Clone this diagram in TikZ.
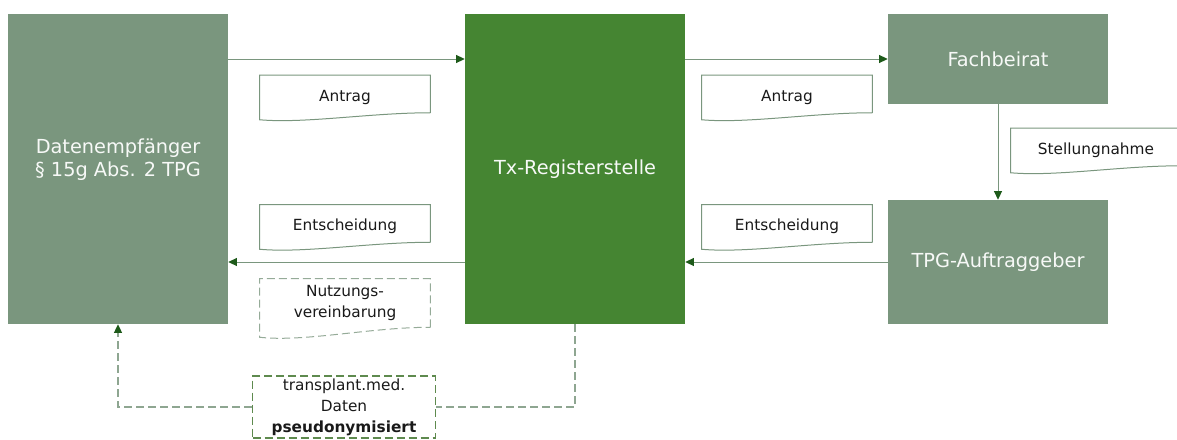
\documentclass[tikz,border=0pt]{standalone}
\usepackage{fontspec}
\setmainfont{DejaVu Sans}
\usepackage{tikz}
\usetikzlibrary{arrows.meta}

\definecolor{boxgreen}{HTML}{7A967E}
\definecolor{txgreen}{HTML}{458532}
\definecolor{tipgreen}{HTML}{1E5A1A}
\definecolor{lineg}{HTML}{7A967E}
\definecolor{dashg}{HTML}{5E8A4E}

\tikzset{
  entity/.style={shape=rectangle, fill=boxgreen, text=white!94!boxgreen, minimum width=165pt,
    align=center, font=\fontsize{14.5}{17.5}\selectfont},
  register/.style={entity, fill=txgreen},
  paper/.style={shape=rectangle, minimum width=127.5pt, minimum height=27.75pt, align=center,
    font=\fontsize{11.5}{15.75}\selectfont, text=black!90},
  sheet/.style={paper, text height=11pt, text depth=0pt},
  paperline/.style={draw=lineg, line width=0.75pt},
  flow/.style={draw=lineg, line width=0.75pt, -{Triangle[length=6.5pt, width=6pt, color=tipgreen]}},
  dataflow/.style={draw=lineg!85, line width=1pt, dash pattern=on 6pt off 3pt},
}

\begin{document}
\begin{tikzpicture}[x=0.75pt, y=-0.75pt]
    \clip (0,0) rectangle (1177,439);

    % main parties
    \node[entity, minimum height=232.5pt] (dat) at (118,169) {Datenempfänger\\§ 15g Abs. 2 TPG\\~};
    \node[register, minimum height=232.5pt] (reg) at (575,169) {Tx-Registerstelle};
    \node[entity, minimum height=67.5pt] (fach) at (998,59) {Fachbeirat};
    \node[entity, minimum height=93pt] (tpg) at (998,262) {TPG-Auftraggeber};

    % documents
    \node[sheet] (antragL) at (345,94) {Antrag};
    \node[sheet] (entsL) at (345,223.5) {Entscheidung};
    \node[sheet] (antragR) at (787,94) {Antrag};
    \node[sheet] (entsR) at (787,223.5) {Entscheidung};
    \node[sheet] (stell) at (1096,147) {Stellungnahme};
    \node[paper, minimum height=36pt] (nutz) at (345,303) {Nutzungs-\\vereinbarung};
    \node[paper, minimum width=137pt, minimum height=46.5pt, inner sep=1pt,
          draw=dashg, line width=1.1pt, dash pattern=on 6pt off 3pt] (daten) at (344,407)
          {transplant.med.\\Daten\\\textbf{pseudonymisiert}};

    \foreach \n in {antragL,entsL,antragR,entsR,stell}
      \draw[paperline] (\n.south east) -- (\n.north east) -- (\n.north west)
        -- ([yshift=-5.25pt]\n.south west) .. controls +(45,4) and +(-60,0) .. (\n.south east);
    \draw[paperline, draw=lineg!80, dash pattern=on 6pt off 3pt] (nutz.south east) -- (nutz.north east)
        -- (nutz.north west) -- ([yshift=-7.5pt]nutz.south west) .. controls +(45,5) and +(-60,0) .. (nutz.south east);

    % flows
    \draw[flow] (dat.east |- fach.center) -- (reg.west |- fach.center);
    \draw[flow] (reg.east |- fach.west) -- (fach.west);
    \draw[flow] (fach) -- (tpg);
    \draw[flow] (tpg.west) -- (reg.east |- tpg.west);
    \draw[flow] (reg.west |- tpg.west) -- (dat.east |- tpg.west);

    % data delivery
    \draw[dataflow] (reg.south) |- (daten.east);
    \draw[dataflow, -{Triangle[length=6.5pt, width=6pt, color=tipgreen]}] (daten.west) -| (dat.south);

\end{tikzpicture}
\end{document}
